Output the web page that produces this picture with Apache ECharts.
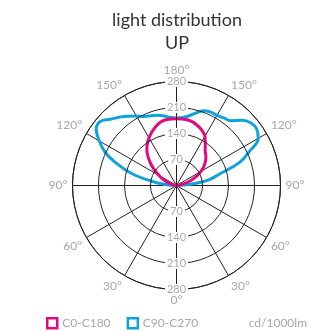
<!DOCTYPE html>
<html>
<head>
<meta charset="utf-8">
<script src="https://cdn.jsdelivr.net/npm/echarts@6/dist/echarts.min.js"></script>
<style>
  html, body { margin: 0; padding: 0; background: #fff; }
  #chart { width: 324px; height: 331px; }
</style>
</head>
<body>
<div id="chart"></div>
<script>
// Vertical angle gamma (deg), 90 = horizontal, 180 = straight up
const gamma = [90, 95, 100, 105, 110, 115, 120, 125, 130, 135, 140, 145, 150, 155, 160, 165, 170, 175, 180];

// Luminous intensity in cd/1000lm for each C-plane, indexed like gamma
const c180 = [0, 2, 6, 14, 26, 40, 55, 72, 90, 108, 124, 137, 148, 158, 167, 175, 179, 180, 180];
const c0   = [0, 4, 12, 26, 42, 60, 76, 90, 102, 112, 120, 135, 153, 163, 170, 176, 179, 180, 180];
const c270 = [0, 30, 70, 125, 170, 212, 240, 264, 268, 252, 240, 228, 216, 205, 200, 196, 190, 184, 182];
const c90  = [0, 38, 88, 120, 180, 216, 254, 264, 262, 248, 228, 222, 218, 218, 214, 202, 190, 184, 182];

const ringTicks = [70, 140, 210, 280];
const titleLines = ['light distribution', 'UP'];
const seriesNames = ['C0-C180', 'C90-C270'];
const unitLabel = 'cd/1000lm';

// Left half runs bottom -> top (angle = gamma), right half top -> bottom (angle = 360 - gamma)
function curve(leftVals, rightVals) {
  const pts = [];
  for (let i = 0; i < gamma.length; i++) pts.push([leftVals[i], gamma[i]]);
  for (let i = gamma.length - 2; i >= 0; i--) pts.push([rightVals[i], 360 - gamma[i]]);
  return pts;
}

const MAGENTA = '#e4087f';
const CYAN = '#0fa3dd';
const GRID = '#222';
const LABEL = '#a8a8a8';
const FONT = 'Lato';
const center = [176.5, 185.5];
const radius = 104;

// Spokes every 30 deg; the vertical ones are left to the radius axes
const spokeColors = [];
for (let a = 0; a < 360; a += 30) spokeColors.push(a === 0 || a === 180 ? 'rgba(0,0,0,0)' : GRID);

const radiusLabel = {
  color: LABEL, fontSize: 11, fontFamily: FONT,
  margin: 0, align: 'center', verticalAlign: 'middle',
  backgroundColor: '#fff', padding: [0, 2],
  formatter: v => (ringTicks.indexOf(v) >= 0 ? String(v) : '')
};

const chart = echarts.init(document.getElementById('chart'), null, { renderer: 'canvas' });
chart.setOption({
  animation: false,
  polar: [
    { center: center, radius: radius },
    { center: center, radius: radius }
  ],
  angleAxis: [
    {
      polarIndex: 0, type: 'value', min: 0, max: 360, interval: 30,
      startAngle: 270, clockwise: true,
      axisLine: { lineStyle: { color: GRID, width: 1 } },
      axisTick: { show: false },
      axisLabel: {
        color: LABEL, fontSize: 12, fontFamily: FONT, margin: 5,
        formatter: v => (v >= 360 ? '' : (v <= 180 ? v : 360 - v) + '°')
      },
      splitLine: { show: true, lineStyle: { color: spokeColors, width: 1 } }
    },
    { polarIndex: 1, type: 'value', min: 0, max: 360, startAngle: 90, show: false }
  ],
  radiusAxis: [
    {
      polarIndex: 0, type: 'value', min: 0, max: 280, interval: 70,
      axisLine: { show: true, lineStyle: { color: GRID, width: 1 } },
      axisTick: { show: false },
      axisLabel: radiusLabel,
      splitLine: { show: true, lineStyle: { color: GRID, width: 1 } },
      z: 5
    },
    {
      polarIndex: 1, type: 'value', min: 0, max: 280, interval: 70,
      axisLine: { show: true, lineStyle: { color: GRID, width: 1 } },
      axisTick: { show: false },
      axisLabel: radiusLabel,
      splitLine: { show: false },
      z: 5
    }
  ],
  legend: {
    left: 41, top: 312, padding: 5, itemWidth: 10, itemHeight: 10, itemGap: 16,
    textStyle: { color: LABEL, fontSize: 12, fontFamily: FONT },
    data: [
      { name: seriesNames[0], icon: 'rect', itemStyle: { color: '#fff', borderColor: MAGENTA, borderWidth: 2.5 } },
      { name: seriesNames[1], icon: 'rect', itemStyle: { color: '#fff', borderColor: CYAN, borderWidth: 2.5 } }
    ]
  },
  graphic: [
    {
      type: 'text', x: 177, y: 20,
      style: { text: titleLines[0], fill: '#333', fontSize: 18, fontFamily: FONT, align: 'center', verticalAlign: 'middle' }
    },
    {
      type: 'text', x: 177, y: 43,
      style: { text: titleLines[1], fill: '#333', fontSize: 18, fontFamily: FONT, align: 'center', verticalAlign: 'middle' }
    },
    {
      type: 'text', x: 307, y: 323,
      style: { text: unitLabel, fill: LABEL, fontSize: 12, fontFamily: FONT, align: 'right', verticalAlign: 'middle' }
    }
  ],
  series: [
    {
      name: seriesNames[1], type: 'line', coordinateSystem: 'polar', polarIndex: 0,
      data: curve(c270, c90), smooth: 0.4, showSymbol: false, z: 3,
      lineStyle: { color: CYAN, width: 3 }, itemStyle: { color: CYAN }
    },
    {
      name: seriesNames[0], type: 'line', coordinateSystem: 'polar', polarIndex: 0,
      data: curve(c180, c0), smooth: 0.4, showSymbol: false, z: 4,
      lineStyle: { color: MAGENTA, width: 3 }, itemStyle: { color: MAGENTA }
    }
  ]
});
</script>
</body>
</html>
